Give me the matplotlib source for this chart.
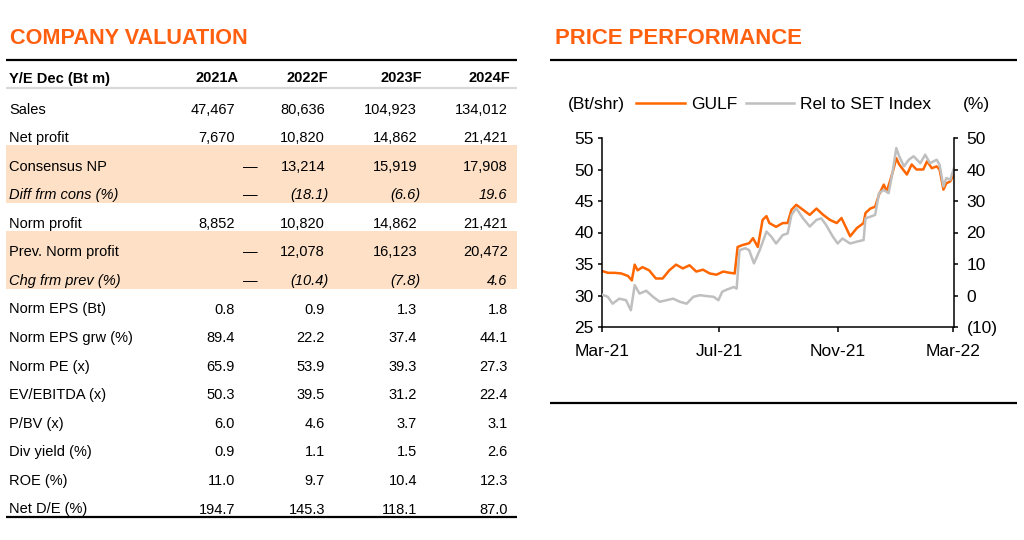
import matplotlib
matplotlib.use("Agg")
import matplotlib.pyplot as plt
import matplotlib.dates as mdates
from matplotlib.patches import Rectangle
import pandas as pd

plt.rcParams['font.family'] = ['Liberation Sans', 'DejaVu Sans']

# ---------------- data ----------------
row_labels = ["Sales", "Net profit", "Consensus NP", "Diff frm cons (%)", "Norm profit",
              "Prev. Norm profit", "Chg frm prev (%)", "Norm EPS (Bt)", "Norm EPS grw (%)",
              "Norm PE (x)", "EV/EBITDA (x)", "P/BV (x)", "Div yield (%)", "ROE (%)", "Net D/E (%)"]
years = ["2021A", "2022F", "2023F", "2024F"]
v2021A = ["47,467", "7,670", "—", "—", "8,852", "—", "—", "0.8", "89.4", "65.9", "50.3",
          "6.0", "0.9", "11.0", "194.7"]
v2022F = ["80,636", "10,820", "13,214", "(18.1)", "10,820", "12,078", "(10.4)", "0.9", "22.2",
          "53.9", "39.5", "4.6", "1.1", "9.7", "145.3"]
v2023F = ["104,923", "14,862", "15,919", "(6.6)", "14,862", "16,123", "(7.8)", "1.3", "37.4",
          "39.3", "31.2", "3.7", "1.5", "10.4", "118.1"]
v2024F = ["134,012", "21,421", "17,908", "19.6", "21,421", "20,472", "4.6", "1.8", "44.1",
          "27.3", "22.4", "3.1", "2.6", "12.3", "87.0"]
shaded_rows = [2, 3, 5, 6]
italic_rows = [3, 6]

gulf_dates = ["2021-03-01", "2021-03-07", "2021-03-14", "2021-03-21", "2021-03-28", "2021-04-01",
              "2021-04-04", "2021-04-07", "2021-04-12", "2021-04-19", "2021-04-26", "2021-05-03",
              "2021-05-10", "2021-05-17", "2021-05-24", "2021-05-31", "2021-06-07", "2021-06-14",
              "2021-06-21", "2021-06-28", "2021-07-05", "2021-07-12", "2021-07-17", "2021-07-20",
              "2021-07-25", "2021-08-01", "2021-08-05", "2021-08-10", "2021-08-15", "2021-08-19",
              "2021-08-22", "2021-08-29", "2021-09-05", "2021-09-10", "2021-09-14", "2021-09-19",
              "2021-09-26", "2021-10-03", "2021-10-10", "2021-10-17", "2021-10-24", "2021-10-31",
              "2021-11-05", "2021-11-10", "2021-11-14", "2021-11-21", "2021-11-28", "2021-11-30",
              "2021-12-05", "2021-12-10", "2021-12-14", "2021-12-19", "2021-12-22", "2021-12-26",
              "2021-12-29", "2022-01-01", "2022-01-04", "2022-01-07", "2022-01-12", "2022-01-17",
              "2022-01-22", "2022-01-29", "2022-02-02", "2022-02-07", "2022-02-12", "2022-02-15",
              "2022-02-19", "2022-02-22", "2022-02-26", "2022-03-02"]
gulf_price = [33.9, 33.6, 33.6, 33.5, 33.1, 32.4, 34.9, 34.0, 34.5, 34.0, 32.7, 32.7, 34.0, 34.9,
              34.3, 34.8, 33.8, 34.1, 33.5, 33.3, 33.8, 33.6, 33.5, 37.7, 38.0, 38.3, 39.1, 37.7,
              42.0, 42.6, 41.5, 40.9, 41.5, 41.5, 43.6, 44.4, 43.6, 42.8, 43.8, 42.8, 42.0, 41.5,
              42.3, 40.7, 39.4, 40.7, 41.5, 43.1, 43.8, 44.1, 46.0, 47.6, 46.5, 48.4, 50.0, 51.8,
              50.8, 50.2, 49.2, 50.8, 50.0, 50.0, 51.3, 50.2, 50.5, 50.0, 46.8, 47.8, 48.1, 49.2]

rel_dates = ["2021-03-01", "2021-03-07", "2021-03-12", "2021-03-19", "2021-03-26", "2021-03-31",
             "2021-04-04", "2021-04-09", "2021-04-16", "2021-04-23", "2021-04-30", "2021-05-07",
             "2021-05-14", "2021-05-21", "2021-05-28", "2021-06-04", "2021-06-11", "2021-06-18",
             "2021-06-25", "2021-06-30", "2021-07-04", "2021-07-09", "2021-07-16", "2021-07-19",
             "2021-07-22", "2021-07-28", "2021-08-01", "2021-08-06", "2021-08-12", "2021-08-19",
             "2021-08-24", "2021-08-29", "2021-09-05", "2021-09-10", "2021-09-14", "2021-09-19",
             "2021-09-26", "2021-10-03", "2021-10-10", "2021-10-15", "2021-10-20", "2021-10-27",
             "2021-11-01", "2021-11-06", "2021-11-14", "2021-11-21", "2021-11-28", "2021-11-30",
             "2021-12-05", "2021-12-10", "2021-12-14", "2021-12-19", "2021-12-24", "2021-12-28",
             "2022-01-01", "2022-01-04", "2022-01-09", "2022-01-14", "2022-01-19", "2022-01-26",
             "2022-01-31", "2022-02-05", "2022-02-12", "2022-02-15", "2022-02-19", "2022-02-22",
             "2022-02-26", "2022-03-02"]
rel_pct = [0.3, -0.4, -2.6, -1.0, -1.5, -4.7, 3.3, 0.6, 1.5, -0.4, -2.0, -1.5, -1.0, -2.0, -2.6,
           -0.4, 0.1, -0.2, -0.4, -1.5, 1.2, 1.9, 2.7, 2.2, 14.4, 15.0, 14.4, 10.2, 14.4, 20.3,
           18.7, 16.5, 19.2, 19.7, 25.6, 27.7, 24.5, 21.9, 24.0, 24.5, 22.4, 18.7, 16.5, 18.1,
           16.5, 17.1, 17.6, 24.5, 25.0, 25.6, 32.5, 33.5, 32.5, 38.9, 46.8, 44.2, 41.0, 43.1,
           44.2, 42.0, 44.7, 42.0, 43.1, 41.5, 34.6, 37.3, 36.7, 40.4]

left_ticks = [25, 30, 35, 40, 45, 50, 55]
right_ticks = [-10, 0, 10, 20, 30, 40, 50]
right_tick_labels = ["(10)", "0", "10", "20", "30", "40", "50"]
x_ticks = ["2021-03-01", "2021-07-01", "2021-11-01", "2022-03-01"]

ORANGE = "#FF6010"
LINE_OR = "#FF6600"
GRAY = "#BFBFBF"
SHADE = "#FDE0C6"

# ---------------- figure ----------------
W, H = 1024, 540
fig = plt.figure(figsize=(W / 100, H / 100), dpi=100)
bg = fig.add_axes([0, 0, 1, 1])
bg.set_xlim(0, W)
bg.set_ylim(H, 0)
bg.axis("off")

# titles
bg.text(10, 44, "COMPANY VALUATION", color=ORANGE, fontsize=15.6, fontweight="bold", va="baseline")
bg.text(555, 43.5, "PRICE PERFORMANCE", color=ORANGE, fontsize=15.9, fontweight="bold", va="baseline")

# table rules
bg.plot([6, 517], [60, 60], color="black", lw=1.6, solid_capstyle="butt")
bg.plot([6, 517], [88, 88], color="#D9D9D9", lw=1.6, solid_capstyle="butt")
bg.plot([6, 517], [517, 517], color="black", lw=1.6, solid_capstyle="butt")
# right panel rules
bg.plot([550, 1017], [60, 60], color="black", lw=1.6, solid_capstyle="butt")
bg.plot([550, 1017], [403, 403], color="black", lw=1.6, solid_capstyle="butt")

col_right = [235, 325, 417, 508]
header_right = [239, 328, 422, 510]
FS = 10.5
bg.text(9, 82.5, "Y/E Dec (Bt m)", fontsize=FS, fontweight="bold", va="baseline")
for yr, xr in zip(years, header_right):
    bg.text(xr, 82.5, yr, fontsize=FS, fontweight="bold", ha="right", va="baseline")

y0, pitch = 108, 400 / 14
cols = [v2021A, v2022F, v2023F, v2024F]
for i, lab in enumerate(row_labels):
    yc = y0 + i * pitch
    if i in shaded_rows:
        bg.add_patch(Rectangle((6, yc - 20), 511, pitch + 0.6, facecolor=SHADE,
                               edgecolor="none", zorder=0))
for i, lab in enumerate(row_labels):
    yc = y0 + i * pitch
    style = "italic" if i in italic_rows else "normal"
    bg.text(9, yc + 5.5, lab, fontsize=FS, style=style, va="baseline", zorder=2)
    for c, xr in zip(cols, col_right):
        s = c[i]
        if s == "—":
            bg.text(xr + 23, yc + 5.5, s, fontsize=FS, ha="right", va="baseline", zorder=2)
        elif s.startswith("("):
            bg.text(xr + 3.5, yc + 5.5, s, fontsize=FS, ha="right", va="baseline",
                    style=style, zorder=2)
        else:
            bg.text(xr - (1 if style == "italic" else 0), yc + 5.5, s, fontsize=FS,
                    ha="right", va="baseline", style=style, zorder=2)

# ---------------- chart ----------------
l, r, t, b = 602, 954, 138, 327
ax = fig.add_axes([l / W, 1 - b / H, (r - l) / W, (b - t) / H])
ax2 = ax.twinx()

gd = pd.to_datetime(gulf_dates)
rd = pd.to_datetime(rel_dates)
ln1, = ax.plot(gd, gulf_price, color=LINE_OR, lw=1.8, label="GULF")
ln2, = ax2.plot(rd, rel_pct, color=GRAY, lw=1.8, label="Rel to SET Index")

ax.set_ylim(25, 55)
ax2.set_ylim(-10, 50)
ax.set_xlim(pd.Timestamp("2021-03-01"), pd.Timestamp("2022-03-02"))
ax.set_yticks(left_ticks)
ax2.set_yticks(right_ticks)
ax2.set_yticklabels(right_tick_labels)
ax.set_xticks(pd.to_datetime(x_ticks))
ax.xaxis.set_major_formatter(mdates.DateFormatter("%b-%y"))

for a in (ax, ax2):
    a.spines["top"].set_visible(False)
    for s in a.spines.values():
        s.set_linewidth(1.1)
    a.set_facecolor("none")
ax.spines["right"].set_visible(False)
ax2.spines["left"].set_visible(False)
ax2.spines["bottom"].set_visible(False)

TFS = 12.5
ax.tick_params(axis="y", direction="out", length=3, width=1.1, pad=3, labelsize=TFS)
ax.tick_params(axis="x", direction="out", length=3.5, width=1.1, pad=8.5, labelsize=TFS)
ax2.tick_params(axis="y", direction="out", length=3, width=1.1, pad=6, labelsize=TFS)

fig.text(568 / W, 1 - 104 / H, "(Bt/shr)", fontsize=TFS, va="center")
fig.text(963 / W, 1 - 104 / H, "(%)", fontsize=TFS, va="center")
fig.legend(handles=[ln1, ln2], loc="center left", bbox_to_anchor=(636 / W, 1 - 104 / H),
           ncol=2, frameon=False, fontsize=TFS, handlelength=2.8, handletextpad=0.35,
           columnspacing=0.5, borderpad=0, borderaxespad=0)

fig.savefig("out.png", dpi=100)
